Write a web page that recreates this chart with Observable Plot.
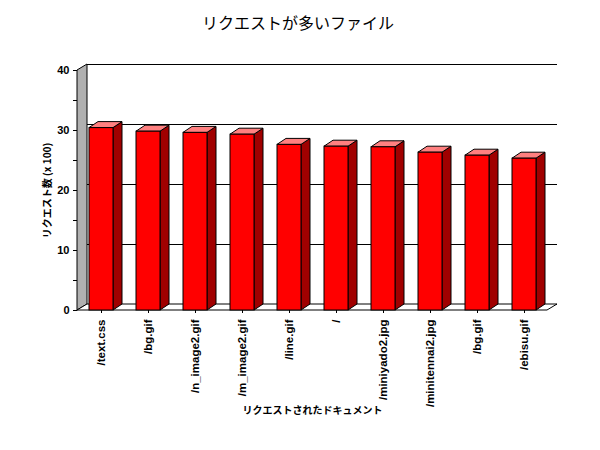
<!DOCTYPE html>
<html><head><meta charset="utf-8">
<script src="https://cdn.jsdelivr.net/npm/d3@7"></script>
<script src="https://cdn.jsdelivr.net/npm/@observablehq/plot@0.6"></script>
<style>
body{margin:0;background:#fff;width:600px;height:450px;overflow:hidden;font-family:"Liberation Sans","Noto Sans CJK JP",sans-serif}
#title{height:45px;box-sizing:border-box;padding-top:12px;line-height:20px;text-align:center;font-size:16px;font-family:"Noto Sans CJK JP",sans-serif;color:#000;padding-right:4px}
</style></head><body>
<div id="title"></div>
<div id="chart"></div>
<script>
const titleText = "リクエストが多いファイル";
const yLabel = "リクエスト数 (x 100)";
const xLabel = "リクエストされたドキュメント";
const files = ["/text.css","/bg.gif","/n_image2.gif","/m_image2.gif","/line.gif","/","/miniyado2.jpg","/minitennai2.jpg","/bg.gif","/ebisu.gif"];
const requests = [30.4, 29.8, 29.6, 29.3, 27.6, 27.3, 27.2, 26.3, 25.8, 25.3];
const yTicks = [0, 10, 20, 30, 40];
const yMinor = [5, 15, 25, 35];

const wallDepth = {dx: 10, dy: -6};
const barDepth = {dx: 9, dy: -6};

document.getElementById("title").textContent = titleText;
const data = files.map((f, i) => ({i, file: f, value: requests[i]}));

function walls(index, scales, values, dims) {
  const y = scales.y;
  const x0 = dims.marginLeft, x1 = dims.width - dims.marginRight;
  const yb = y(0), yt = y(40);
  const {dx, dy} = wallDepth;
  const g = d3.create("svg:g").attr("stroke", "black").attr("stroke-width", 1);
  g.append("path")
    .attr("d", `M${x0},${yb}L${x0},${yt}L${x0+dx},${yt+dy}L${x0+dx},${yb+dy}Z`)
    .attr("fill", "#b0b0b0");
  g.append("path")
    .attr("d", `M${x0},${yb}L${x1},${yb}L${x1+dx},${yb+dy}L${x0+dx},${yb+dy}Z`)
    .attr("fill", "white");
  return g.node();
}

function barSides(index, scales) {
  const x = scales.x, y = scales.y;
  const bw = x.bandwidth();
  const {dx, dy} = barDepth;
  const g = d3.create("svg:g").attr("stroke", "black").attr("stroke-width", 1).attr("stroke-linejoin", "round");
  for (const d of data) {
    const xl = x(d.i), xr = xl + bw, yt = y(d.value), yb = y(0);
    g.append("path")
      .attr("d", `M${xr},${yb}L${xr},${yt}L${xr+dx},${yt+dy}L${xr+dx},${yb+dy}Z`)
      .attr("fill", "#a00000");
    g.append("path")
      .attr("d", `M${xl},${yt}L${xr},${yt}L${xr+dx},${yt+dy}L${xl+dx},${yt+dy}Z`)
      .attr("fill", "#ff8080");
  }
  return g.node();
}

const chart = Plot.plot({
  width: 600,
  height: 405,
  marginLeft: 77,
  marginRight: 53,
  marginTop: 25,
  marginBottom: 140,
  style: {fontFamily: "'Liberation Sans','Noto Sans CJK JP',sans-serif", fontSize: "11px", fontWeight: "bold", color: "black", background: "white"},
  x: {type: "band", domain: d3.range(files.length), paddingInner: 0.49, paddingOuter: 0.245},
  y: {domain: [0, 40]},
  marks: [
    Plot.ruleY(yTicks, {dx: wallDepth.dx, dy: wallDepth.dy, stroke: "black", strokeWidth: 1}),
    walls,
    barSides,
    Plot.barY(data, {x: "i", y: "value", fill: "#ff0000", stroke: "black", strokeWidth: 1}),
    Plot.axisY({ticks: yTicks, tickSize: 4, tickPadding: 4, label: null, fontSize: 11, fontWeight: "bold"}),
    Plot.axisY({ticks: yMinor, tickSize: 4, tickFormat: () => "", label: null}),
    Plot.axisX({tickSize: 3, tickPadding: 6, tickRotate: -90, tickFormat: i => files[i], label: null, fontSize: 11.5, fontWeight: "bold"}),
    Plot.text([yLabel], {text: d => d, frameAnchor: "left", dx: -30, rotate: -90, textAnchor: "middle", lineAnchor: "middle", fontSize: 10, fontWeight: "bold", fontFamily: "'Noto Sans CJK JP',sans-serif"}),
    Plot.text([xLabel], {text: d => d, frameAnchor: "bottom", dy: 100, textAnchor: "middle", lineAnchor: "middle", fontSize: 10, fontWeight: "bold", fontFamily: "'Noto Sans CJK JP',sans-serif"})
  ]
});
document.getElementById("chart").appendChild(chart);
</script>
</body></html>
